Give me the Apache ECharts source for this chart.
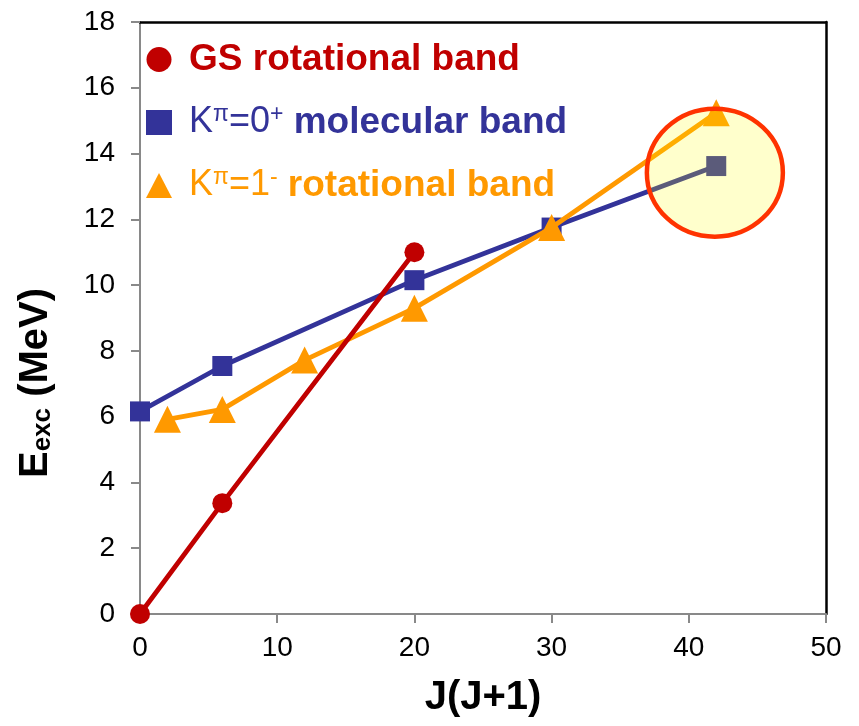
<!DOCTYPE html>
<html>
<head>
<meta charset="utf-8">
<title>Excitation energy vs J(J+1)</title>
<script src="https://cdn.jsdelivr.net/npm/echarts@6/dist/echarts.min.js"></script>
<style>
  html, body { margin: 0; padding: 0; background: #ffffff; }
  #chart { width: 859px; height: 726px; }
</style>
</head>
<body>
<div id="chart"></div>
<script>
// J(J+1) positions and excitation energies (MeV) for each band
const gsX = [0, 6, 20];
const gsE = [0, 3.37, 11.0];

const molX = [0, 6, 20, 30, 42];
const molE = [6.16, 7.54, 10.15, 11.75, 13.62];

const negX = [2, 6, 12, 20, 30, 42];
const negE = [5.92, 6.22, 7.72, 9.3, 11.75, 15.24];

// Highlighted region around the highest-spin states (data coordinates)
const highlightCenter = [41.9, 13.42];

const xTicks = { min: 0, max: 50, interval: 10 };
const yTicks = { min: 0, max: 18, interval: 2 };

const FONT = '"Liberation Sans", Arial, sans-serif';
const RED = '#c00000';
const BLUE = '#333399';
const ORANGE = '#ff9900';
const AXIS_GRAY = '#898989';

function pairs(xs, ys) {
  return xs.map((x, i) => [x, ys[i]]);
}

const chart = echarts.init(document.getElementById('chart'), null, { renderer: 'canvas' });

const LG = 37;   // legend font size
const SUP = 23;  // superscript size
const legendRich = {
  gs:  { color: RED,    fontSize: LG, fontWeight: 'bold', fontFamily: FONT },
  kB:  { color: BLUE,   fontSize: LG - 1, fontWeight: 'normal', fontFamily: FONT },
  supB:{ color: BLUE,   fontSize: SUP, fontWeight: 'normal', fontFamily: FONT, padding: [0, 0, 16, 0] },
  bB:  { color: BLUE,   fontSize: LG, fontWeight: 'bold', fontFamily: FONT },
  kO:  { color: ORANGE, fontSize: LG - 1, fontWeight: 'normal', fontFamily: FONT },
  supO:{ color: ORANGE, fontSize: SUP, fontWeight: 'normal', fontFamily: FONT, padding: [0, 0, 16, 0] },
  bO:  { color: ORANGE, fontSize: LG, fontWeight: 'bold', fontFamily: FONT }
};

const legendText = {
  'GS rotational band': '{gs|GS rotational band}',
  'Kπ=0+ molecular band': '{kB|K}{supB|π}{kB|=0}{supB|+}{bB| molecular band}',
  'Kπ=1- rotational band': '{kO|K}{supO|π}{kO|=1}{supO|-}{bO| rotational band}'
};

const lineSeries = (name, data, color, symbol, size, z) => ({
  name,
  type: 'line',
  data,
  z,
  symbol,
  symbolSize: size,
  showSymbol: true,
  lineStyle: { color, width: 4.8 },
  itemStyle: { color, borderWidth: 0 },
  emphasis: { disabled: true },
  animation: false
});

const option = {
  backgroundColor: '#ffffff',
  animation: false,
  grid: { left: 140, right: 33, top: 22, bottom: 112, containLabel: false },
  legend: {
    orient: 'vertical',
    left: 141,
    top: 36,
    itemWidth: 26,
    itemHeight: 25,
    itemGap: 25,
    itemTextGap: 14,
    selectedMode: false,
    data: [
      { name: 'GS rotational band', icon: 'circle' },
      { name: 'Kπ=0+ molecular band', icon: 'rect' },
      { name: 'Kπ=1- rotational band', icon: 'triangle' }
    ],
    formatter: (name) => legendText[name],
    textStyle: { rich: legendRich, padding: [0, 0, 0, 12] }
  },
  xAxis: [
    {
      type: 'value',
      min: xTicks.min, max: xTicks.max, interval: xTicks.interval,
      name: 'J(J+1)',
      nameLocation: 'middle',
      nameGap: 64,
      nameTextStyle: { fontFamily: FONT, fontSize: 40, fontWeight: 'bold', color: '#000' },
      axisLine: { show: true, onZero: false, lineStyle: { color: AXIS_GRAY, width: 2 } },
      axisTick: { show: true, inside: false, length: 9, lineStyle: { color: AXIS_GRAY, width: 2 } },
      axisLabel: { fontFamily: FONT, fontSize: 28, color: '#000', margin: 20 },
      splitLine: { show: false }
    },
    {
      type: 'value', position: 'top',
      min: xTicks.min, max: xTicks.max,
      axisLine: { show: true, onZero: false, lineStyle: { color: '#000', width: 2.5 } },
      axisTick: { show: false }, axisLabel: { show: false }, splitLine: { show: false }
    }
  ],
  yAxis: [
    {
      type: 'value',
      min: yTicks.min, max: yTicks.max, interval: yTicks.interval,
      name: '{e|E}{sub|exc}{e| (MeV)}',
      nameLocation: 'middle',
      nameRotate: 90,
      nameGap: 84,
      nameTextStyle: {
        padding: [0, 130, 0, 0],
        rich: {
          e:   { fontFamily: FONT, fontSize: 40, fontWeight: 'bold', color: '#000' },
          sub: { fontFamily: FONT, fontSize: 26, fontWeight: 'bold', color: '#000', padding: [14, 0, 0, 0] }
        }
      },
      axisLine: { show: true, onZero: false, lineStyle: { color: AXIS_GRAY, width: 2 } },
      axisTick: { show: true, inside: false, length: 9, lineStyle: { color: AXIS_GRAY, width: 2 } },
      axisLabel: { fontFamily: FONT, fontSize: 28, color: '#000', margin: 25 },
      splitLine: { show: false }
    },
    {
      type: 'value', position: 'right',
      min: yTicks.min, max: yTicks.max,
      axisLine: { show: true, onZero: false, lineStyle: { color: '#000', width: 2.5 } },
      axisTick: { show: false }, axisLabel: { show: false }, splitLine: { show: false }
    }
  ],
  series: [
    lineSeries('Kπ=0+ molecular band', pairs(molX, molE), BLUE, 'rect', 20, 2),
    lineSeries('Kπ=1- rotational band', pairs(negX, negE), ORANGE, 'triangle', 27, 3),
    lineSeries('GS rotational band', pairs(gsX, gsE), RED, 'circle', 20, 4)
  ]
};

chart.setOption(option);

// Translucent yellow ring marking the highest-spin states
const c = chart.convertToPixel({ xAxisIndex: 0, yAxisIndex: 0 }, highlightCenter);
chart.setOption({
  graphic: [{
    type: 'ellipse',
    z: 100,
    silent: true,
    shape: { cx: c[0], cy: c[1], rx: 68, ry: 64 },
    style: { fill: 'rgba(255,255,0,0.2)', stroke: '#ff3300', lineWidth: 4.5 }
  }]
});
</script>
</body>
</html>
